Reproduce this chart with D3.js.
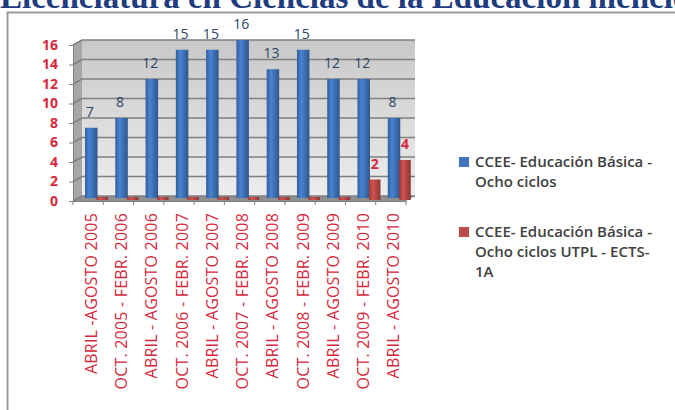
<!DOCTYPE html>
<html>
<head>
<meta charset="utf-8">
<script src="https://cdn.jsdelivr.net/npm/d3@7.9.0/dist/d3.min.js"></script>
<style>
  body { margin: 0; background: #fff; }
  svg { display: block; }
</style>
</head>
<body>
<svg id="chart" width="675" height="410"></svg>
<script>
// data
const periods = [
  'ABRIL -AGOSTO 2005', 'OCT. 2005 - FEBR. 2006', 'ABRIL - AGOSTO 2006',
  'OCT. 2006 - FEBR. 2007', 'ABRIL - AGOSTO 2007', 'OCT. 2007 - FEBR. 2008',
  'ABRIL - AGOSTO 2008', 'OCT. 2008 - FEBR. 2009', 'ABRIL - AGOSTO 2009',
  'OCT. 2009 - FEBR. 2010', 'ABRIL - AGOSTO 2010'
];
const basica = [7, 8, 12, 15, 15, 16, 13, 15, 12, 12, 8];
const utpl = [0, 0, 0, 0, 0, 0, 0, 0, 0, 2, 4];
const seriesNames = [
  ['CCEE- Educación Básica -', 'Ocho ciclos'],
  ['CCEE- Educación Básica -', 'Ocho ciclos UTPL - ECTS-', '1A']
];
const yTicks = [0, 2, 4, 6, 8, 10, 12, 14, 16];

const svg = d3.select('#chart');
const blue = '#4176be', red = '#be4b48';
const depthX = 9, depthY = 5;

// title (cut off at the top, as in the source)
svg.append('text')
  .attr('x', 0).attr('y', 8)
  .attr('font-family', 'Liberation Serif')
  .attr('font-weight', 'bold')
  .attr('font-size', 33)
  .attr('fill', '#1f3c7e')
  .text('Licenciatura en Ciencias de la Educación mención');

// chart frame
svg.append('path')
  .attr('d', 'M7.5,410 V12.5 H675')
  .attr('fill', 'none')
  .attr('stroke', '#9a9a9a')
  .attr('stroke-width', 2);

const x0 = d3.scaleBand().domain(periods).range([82, 415]);
const x1 = d3.scaleBand().domain([0, 1])
  .range([x0.bandwidth() * 0.1, x0.bandwidth() * 0.86]);
const y = d3.scaleLinear().domain([0, 16]).range([196, 40]);

const left = x0.range()[0], right = x0.range()[1];

// gradients
const defs = svg.append('defs');
function cyl(id, c) {
  const g = defs.append('linearGradient').attr('id', id);
  g.append('stop').attr('offset', '0%').attr('stop-color', d3.color(c).darker(0.6));
  g.append('stop').attr('offset', '35%').attr('stop-color', d3.color(c).brighter(0.3));
  g.append('stop').attr('offset', '100%').attr('stop-color', d3.color(c).darker(0.9));
}
cyl('gBlue', blue);
cyl('gRed', red);
const wall = defs.append('linearGradient').attr('id', 'gWall')
  .attr('x1', 0).attr('x2', 0).attr('y1', 0).attr('y2', 1);
wall.append('stop').attr('offset', '0%').attr('stop-color', '#c8c8c8');
wall.append('stop').attr('offset', '100%').attr('stop-color', '#ededed');

// walls and floor
svg.append('rect')
  .attr('x', left).attr('y', y(16))
  .attr('width', right - left).attr('height', y(0) - y(16))
  .attr('fill', 'url(#gWall)');
svg.append('path')
  .attr('d', `M${left - depthX},${y(16) + depthY} L${left},${y(16)} L${left},${y(0)} L${left - depthX},${y(0) + depthY}Z`)
  .attr('fill', '#a6a6a6');
svg.append('path')
  .attr('d', `M${left - depthX},${y(0) + depthY} L${left},${y(0)} L${right},${y(0)} L${right - depthX},${y(0) + depthY}Z`)
  .attr('fill', '#8f8f8f');

// gridlines
yTicks.forEach(t => {
  svg.append('path')
    .attr('d', `M${left - depthX},${y(t) + depthY} L${left},${y(t)} H${right}`)
    .attr('fill', 'none')
    .attr('stroke', '#808080')
    .attr('stroke-width', 1.6);
});

// y axis on the front edge
const yAxis = svg.append('g')
  .attr('transform', `translate(${left - depthX},${depthY})`)
  .call(d3.axisLeft(y).tickValues(yTicks).tickSize(4).tickPadding(11));
yAxis.select('.domain').attr('stroke', '#808080');
yAxis.selectAll('.tick line').attr('stroke', '#808080');
yAxis.selectAll('text')
  .attr('font-family', 'Open Sans')
  .attr('font-weight', 'bold')
  .attr('font-size', 14)
  .attr('fill', '#d6283c');

// bars
const groups = svg.append('g').selectAll('g')
  .data(periods)
  .join('g')
  .attr('transform', d => `translate(${x0(d)},0)`);

groups.append('rect')
  .attr('x', x1(0))
  .attr('y', (d, i) => y(basica[i]))
  .attr('width', x1.bandwidth() + 1)
  .attr('height', (d, i) => y(0) - y(basica[i]) + 2)
  .attr('fill', 'url(#gBlue)');

groups.append('rect')
  .attr('x', x1(1))
  .attr('y', (d, i) => Math.min(y(utpl[i]) + 3, y(0) + 1))
  .attr('width', x1.bandwidth())
  .attr('height', (d, i) => Math.max(y(0) - y(utpl[i]), 2) + 1)
  .attr('fill', 'url(#gRed)');

// data labels
groups.append('text')
  .attr('x', x1(0) + x1.bandwidth() / 2 - 1)
  .attr('y', (d, i) => y(basica[i]) - 11)
  .attr('text-anchor', 'middle')
  .attr('font-family', 'Open Sans')
  .attr('font-size', 14)
  .attr('fill', '#2c4466')
  .text((d, i) => basica[i]);

groups.filter((d, i) => utpl[i] > 0).append('text')
  .attr('x', x1(1) + x1.bandwidth() / 2)
  .attr('y', d => y(utpl[periods.indexOf(d)]) - 8)
  .attr('text-anchor', 'middle')
  .attr('font-family', 'Open Sans')
  .attr('font-weight', 'bold')
  .attr('font-size', 14)
  .attr('fill', '#d6283c')
  .text(d => utpl[periods.indexOf(d)]);

// x axis
const xAxis = svg.append('g')
  .attr('transform', `translate(${-depthX},${y(0) + depthY})`)
  .call(d3.axisBottom(x0).tickSize(0).tickPadding(0));
xAxis.select('.domain').attr('stroke', '#808080');
xAxis.selectAll('.tick text')
  .attr('transform', 'rotate(-90)')
  .attr('text-anchor', 'end')
  .attr('dy', '0.35em')
  .attr('x', -12)
  .attr('y', 3)
  .attr('font-family', 'Open Sans')
  .attr('font-size', 16)
  .attr('letter-spacing', 0.2)
  .attr('fill', '#d6283c');
xAxis.selectAll('.sep')
  .data(periods.concat(['end']))
  .join('line')
  .attr('class', 'sep')
  .attr('x1', (d, i) => left + i * x0.step())
  .attr('x2', (d, i) => left + i * x0.step())
  .attr('y1', 0).attr('y2', 4)
  .attr('stroke', '#808080');

// legend
const legend = svg.append('g').attr('transform', 'translate(459,157)');
const legendRows = [0, 70];
seriesNames.forEach((lines, s) => {
  const g = legend.append('g').attr('transform', `translate(0,${legendRows[s]})`);
  g.append('rect')
    .attr('width', 10).attr('height', 10)
    .attr('fill', s === 0 ? blue : red);
  g.append('text')
    .attr('x', 16).attr('y', 10)
    .attr('font-family', 'Open Sans')
    .attr('font-weight', 600)
    .attr('font-size', 15)
    .attr('fill', '#404040')
    .selectAll('tspan')
    .data(lines)
    .join('tspan')
    .attr('x', 16)
    .attr('dy', (d, i) => i === 0 ? 0 : 20)
    .text(d => d);
});
</script>
</body>
</html>
